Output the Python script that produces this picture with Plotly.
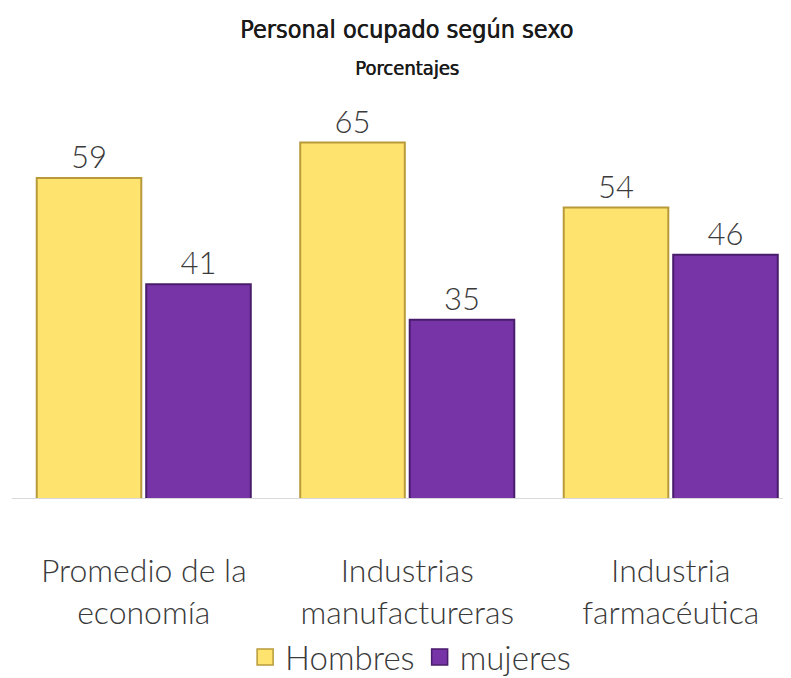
import plotly.graph_objects as go

categories = ["Promedio de la<br>economía", "Industrias<br>manufactureras", "Industria<br>farmacéutica"]
hombres = [59, 65, 54]
mujeres = [41, 35, 46]

COLORS = {
    "hombres": "#FFE36F",
    "hombres_edge": "#B89A3A",
    "mujeres": "#7634A6",
    "mujeres_edge": "#4A1D6C",
}

LIGHT_FONT = dict(family="Lato, 'Open Sans', sans-serif", color="#3a3a3a", weight=300)
TITLE_FONT = dict(family="'DejaVu Sans Condensed', 'Liberation Sans Narrow', sans-serif",
                  color="#1a1a1a", shadow="0.6px 0 0 #1a1a1a")

# page body keeps its default 8px margin, so the figure is sized to fit inside it
fig = go.Figure()
for name, values, key in [("Hombres", hombres, "hombres"), ("mujeres", mujeres, "mujeres")]:
    fig.add_trace(go.Bar(
        name=name, x=categories, y=values, showlegend=False, legendgroup=key,
        marker=dict(color=COLORS[key], line=dict(color=COLORS[key + "_edge"], width=2)),
        text=values, textposition="outside", cliponaxis=False,
        textfont=dict(size=31, **LIGHT_FONT),
    ))
    # legend-only entry, to get the larger square swatch of the original
    fig.add_trace(go.Scatter(
        name=name, x=[None], y=[None], mode="markers", legendgroup=key,
        marker=dict(symbol="square", size=16, color=COLORS[key],
                    line=dict(color=COLORS[key + "_edge"], width=1.5)),
    ))

fig.update_layout(
    width=775, height=670,
    margin=dict(l=4, r=0, t=105, b=180, autoexpand=False),
    paper_bgcolor="white", plot_bgcolor="white",
    barmode="group", bargap=0.169, bargroupgap=0.045,
    legend=dict(
        orientation="h", x=0.517, xanchor="center", y=-0.413, yanchor="middle",
        bgcolor="rgba(0,0,0,0)", font=dict(size=33, **LIGHT_FONT), itemwidth=30,
    ),
    annotations=[
        dict(text="Personal ocupado según sexo", xref="paper", yref="paper",
             x=0.512, y=1.2156, xanchor="center", yanchor="middle", showarrow=False,
             font=dict(size=25, **TITLE_FONT)),
        dict(text="Porcentajes", xref="paper", yref="paper",
             x=0.512, y=1.117, xanchor="center", yanchor="middle", showarrow=False,
             font=dict(size=20, **TITLE_FONT)),
    ],
)
fig.update_xaxes(
    range=[-0.5, 2.426], showline=True, linecolor="#d9d9d9", linewidth=1,
    automargin=False, ticks="", tickfont=dict(size=32, **LIGHT_FONT), ticklabelstandoff=45,
)
fig.update_yaxes(range=[4.83, 70], visible=False, showgrid=False)

fig.write_html("out.html")
